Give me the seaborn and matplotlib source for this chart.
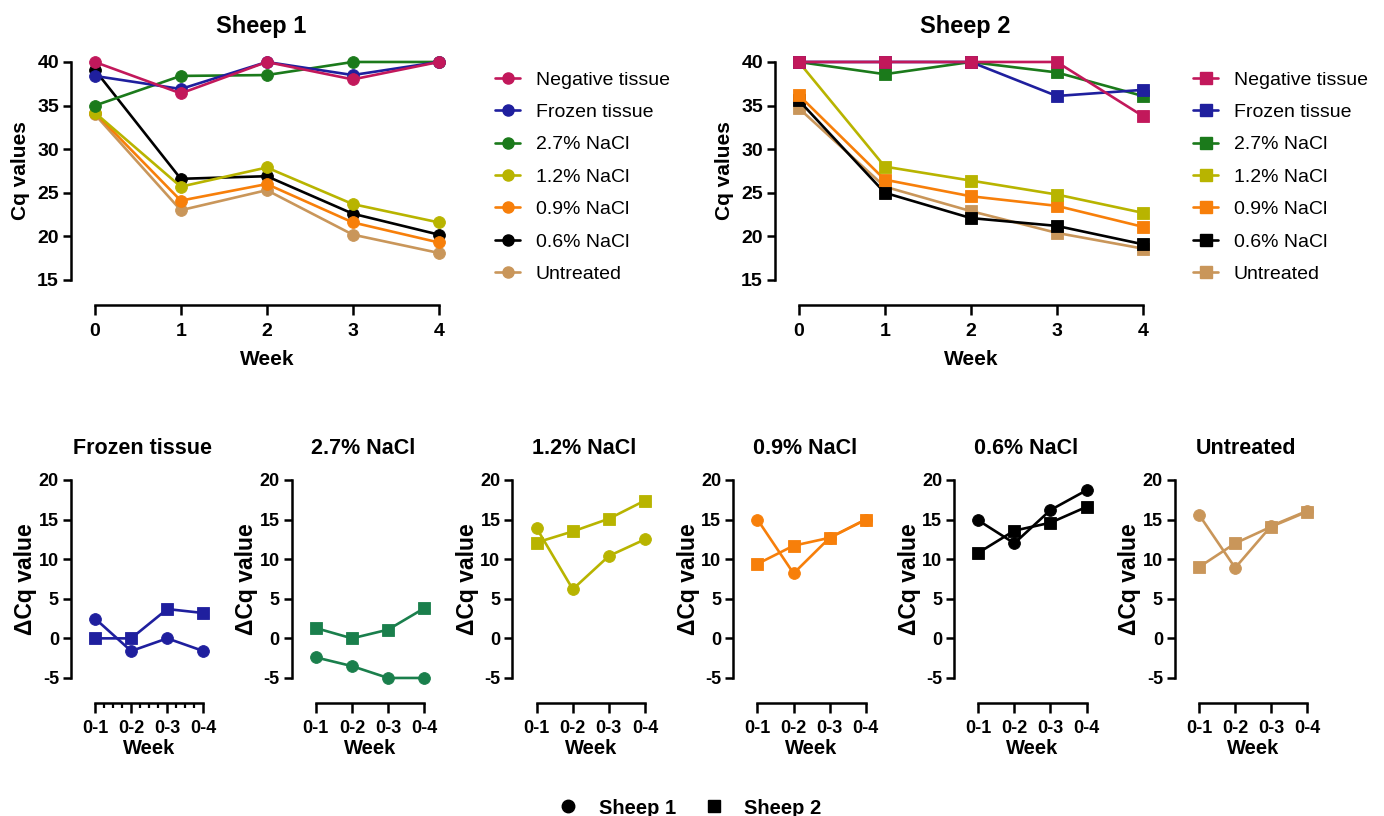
import numpy as np
import pandas as pd
import matplotlib
matplotlib.use("Agg")
import matplotlib.pyplot as plt
from matplotlib.lines import Line2D
from matplotlib.ticker import FixedLocator
import seaborn as sns

# ---- data ----
weeks = [0, 1, 2, 3, 4]
treatments = ["Negative tissue", "Frozen tissue", "2.7% NaCl", "1.2% NaCl",
              "0.9% NaCl", "0.6% NaCl", "Untreated"]

# Sheep 1 Cq values per week
s1_negative = [40.0, 36.4, 40.0, 38.0, 40.0]
s1_frozen = [38.4, 36.9, 40.0, 38.5, 40.0]
s1_nacl27 = [35.0, 38.4, 38.5, 40.0, 40.0]
s1_nacl12 = [34.2, 25.7, 27.9, 23.7, 21.6]
s1_nacl09 = [34.2, 24.1, 26.0, 21.6, 19.3]
s1_nacl06 = [39.1, 26.6, 26.9, 22.6, 20.2]
s1_untreated = [34.0, 23.0, 25.3, 20.2, 18.1]

# Sheep 2 Cq values per week
s2_negative = [40.0, 40.0, 40.0, 40.0, 33.8]
s2_frozen = [40.0, 40.0, 40.0, 36.1, 36.8]
s2_nacl27 = [40.0, 38.6, 40.0, 38.8, 36.1]
s2_nacl12 = [40.0, 28.0, 26.4, 24.8, 22.7]
s2_nacl09 = [36.2, 26.5, 24.6, 23.5, 21.1]
s2_nacl06 = [35.6, 25.0, 22.1, 21.2, 19.1]
s2_untreated = [34.7, 25.7, 22.9, 20.4, 18.6]

# delta Cq (week 0 minus week n)
intervals = ["0-1", "0-2", "0-3", "0-4"]
delta_panels = ["Frozen tissue", "2.7% NaCl", "1.2% NaCl", "0.9% NaCl", "0.6% NaCl", "Untreated"]
d1_frozen = [2.5, -1.6, 0.0, -1.6]
d2_frozen = [0.0, 0.0, 3.7, 3.2]
d1_nacl27 = [-2.4, -3.5, -5.0, -5.0]
d2_nacl27 = [1.3, 0.0, 1.1, 3.8]
d1_nacl12 = [13.9, 6.2, 10.4, 12.5]
d2_nacl12 = [12.1, 13.5, 15.1, 17.4]
d1_nacl09 = [15.0, 8.2, 12.7, 15.0]
d2_nacl09 = [9.4, 11.7, 12.7, 15.0]
d1_nacl06 = [14.9, 12.0, 16.2, 18.7]
d2_nacl06 = [10.8, 13.6, 14.6, 16.6]
d1_untreated = [15.6, 8.9, 14.2, 16.1]
d2_untreated = [9.0, 12.0, 14.1, 16.0]

colors = {
    "Negative tissue": "#C2185B",
    "Frozen tissue": "#1F1F9E",
    "2.7% NaCl": "#1B7A1B",
    "1.2% NaCl": "#B8B400",
    "0.9% NaCl": "#F77F0A",
    "0.6% NaCl": "#000000",
    "Untreated": "#C9965A",
}
delta_colors = dict(colors)
delta_colors["2.7% NaCl"] = "#1A7F4C"

sheep1 = [s1_negative, s1_frozen, s1_nacl27, s1_nacl12, s1_nacl09, s1_nacl06, s1_untreated]
sheep2 = [s2_negative, s2_frozen, s2_nacl27, s2_nacl12, s2_nacl09, s2_nacl06, s2_untreated]
delta1 = [d1_frozen, d1_nacl27, d1_nacl12, d1_nacl09, d1_nacl06, d1_untreated]
delta2 = [d2_frozen, d2_nacl27, d2_nacl12, d2_nacl09, d2_nacl06, d2_untreated]


def long_cq(series):
    rows = []
    for name, vals in zip(treatments, series):
        for w, v in zip(weeks, vals):
            rows.append({"Week": w, "Cq": v, "Treatment": name})
    return pd.DataFrame(rows)


sns.set_theme(style="ticks")
plt.rcParams["font.family"] = ["Liberation Sans", "DejaVu Sans"]
plt.rcParams["axes.unicode_minus"] = False
plt.rcParams["text.color"] = "black"
plt.rcParams["axes.labelcolor"] = "black"
plt.rcParams["axes.linewidth"] = 1.8
plt.rcParams["xtick.major.width"] = 1.8
plt.rcParams["ytick.major.width"] = 1.8
plt.rcParams["xtick.major.size"] = 7
plt.rcParams["ytick.major.size"] = 5.5

fig = plt.figure(figsize=(13.84, 8.16), dpi=100)
W, H = 1384.0, 816.0


def style_axis(ax, tick_size, xpad=5):
    sns.despine(ax=ax)
    ax.tick_params(axis="both", colors="black", labelsize=tick_size)
    ax.tick_params(axis="x", pad=xpad)
    ax.tick_params(axis="y", pad=3)
    for lab in ax.get_xticklabels() + ax.get_yticklabels():
        lab.set_fontweight("bold")
    for sp in ("left", "bottom"):
        ax.spines[sp].set_color("black")


# ---- top panels ----
top_specs = [("Sheep 1", sheep1, "o", 70.7, 0.3577), ("Sheep 2", sheep2, "s", 774.7, 0.862)]
for title, series, mk, left_px, leg_x in top_specs:
    ax = fig.add_axes([left_px / W, 1 - 305 / H, 381 / W, 250 / H])
    df = long_cq(series)
    sns.lineplot(data=df, x="Week", y="Cq", hue="Treatment", hue_order=treatments[::-1],
                 palette=colors, marker=mk, markersize=8.5 if mk == "o" else 8,
                 markeredgewidth=0.6, linewidth=1.9, legend=False, ax=ax, clip_on=False)
    for line in ax.get_lines():
        line.set_markeredgecolor(line.get_color())
    ax.set_xlim(-0.28, 4.15)
    ax.set_ylim(12.13, 40.8)
    ax.set_xticks(weeks)
    ax.set_yticks([15, 20, 25, 30, 35, 40])
    ax.spines["left"].set_bounds(15, 40)
    ax.spines["bottom"].set_bounds(0, 4)
    style_axis(ax, 14, xpad=6)
    ax.set_xlabel("Week", fontsize=15, fontweight="bold")
    ax.xaxis.set_label_coords(0.515, -0.18)
    ax.set_ylabel("Cq values", fontsize=15, fontweight="bold")
    ax.yaxis.set_label_coords(-0.108, 0.536)
    ax.set_title(title, fontsize=17, fontweight="bold", pad=16)
    handles = [Line2D([], [], color=colors[t], marker=mk, markersize=8, lw=1.9) for t in treatments]
    fig.legend(handles, treatments, loc="upper left", bbox_to_anchor=(leg_x, 1 - 71 / H),
               frameon=False, fontsize=14, handlelength=1.3, handletextpad=0.8,
               labelspacing=0.76, borderpad=0, borderaxespad=0)

# ---- bottom delta panels ----
for i, name in enumerate(delta_panels):
    left_px = 70.7 + 220.8 * i
    ax = fig.add_axes([left_px / W, 1 - 703 / H, 143.5 / W, 229.4 / H])
    rows = []
    for sheep, vals in (("Sheep 1", delta1[i]), ("Sheep 2", delta2[i])):
        for k, v in enumerate(vals):
            rows.append({"pos": k, "delta": v, "Sheep": sheep})
    dd = pd.DataFrame(rows)
    col = delta_colors[name]
    sns.lineplot(data=dd, x="pos", y="delta", style="Sheep",
                 markers={"Sheep 1": "o", "Sheep 2": "s"}, dashes=False,
                 color=col, markersize=8.5, markeredgecolor=col, markeredgewidth=0.6,
                 linewidth=1.9, legend=False, ax=ax, clip_on=False)
    ax.set_xlim(-0.675, 3.3)
    ax.set_ylim(-8.16, 20.8)
    ax.set_xticks(range(4))
    ax.set_xticklabels(intervals)
    ax.set_yticks([-5, 0, 5, 10, 15, 20])
    ax.spines["left"].set_bounds(-5, 20)
    ax.spines["bottom"].set_bounds(0, 3)
    if name == "Frozen tissue":
        minor = [k + f for k in range(3) for f in (0.25, 0.5, 0.75)]
        ax.xaxis.set_minor_locator(FixedLocator(minor))
        ax.tick_params(axis="x", which="minor", length=3.5, width=1.6, colors="black")
    style_axis(ax, 13, xpad=5)
    ax.set_xlabel("Week", fontsize=14.5, fontweight="bold")
    ax.xaxis.set_label_coords(0.547, -0.158)
    ax.set_ylabel("ΔCq value", fontsize=16.5, fontweight="bold")
    ax.yaxis.set_label_coords(-0.232, 0.541)
    ax.set_title(name, fontsize=15.5, fontweight="bold", pad=14)

# ---- shared sheep legend ----
sheep_handles = [Line2D([], [], color="black", marker="o", ls="none", markersize=9),
                 Line2D([], [], color="black", marker="s", ls="none", markersize=8.5)]
fig.legend(sheep_handles, ["Sheep 1", "Sheep 2"], ncol=2, loc="center",
           bbox_to_anchor=(0.4985, 1 - 808 / H), frameon=False,
           prop={"weight": "bold", "size": 14.5}, handlelength=1.0,
           handletextpad=1.0, columnspacing=1.4, borderpad=0)

fig.savefig("out.png", dpi=100)
